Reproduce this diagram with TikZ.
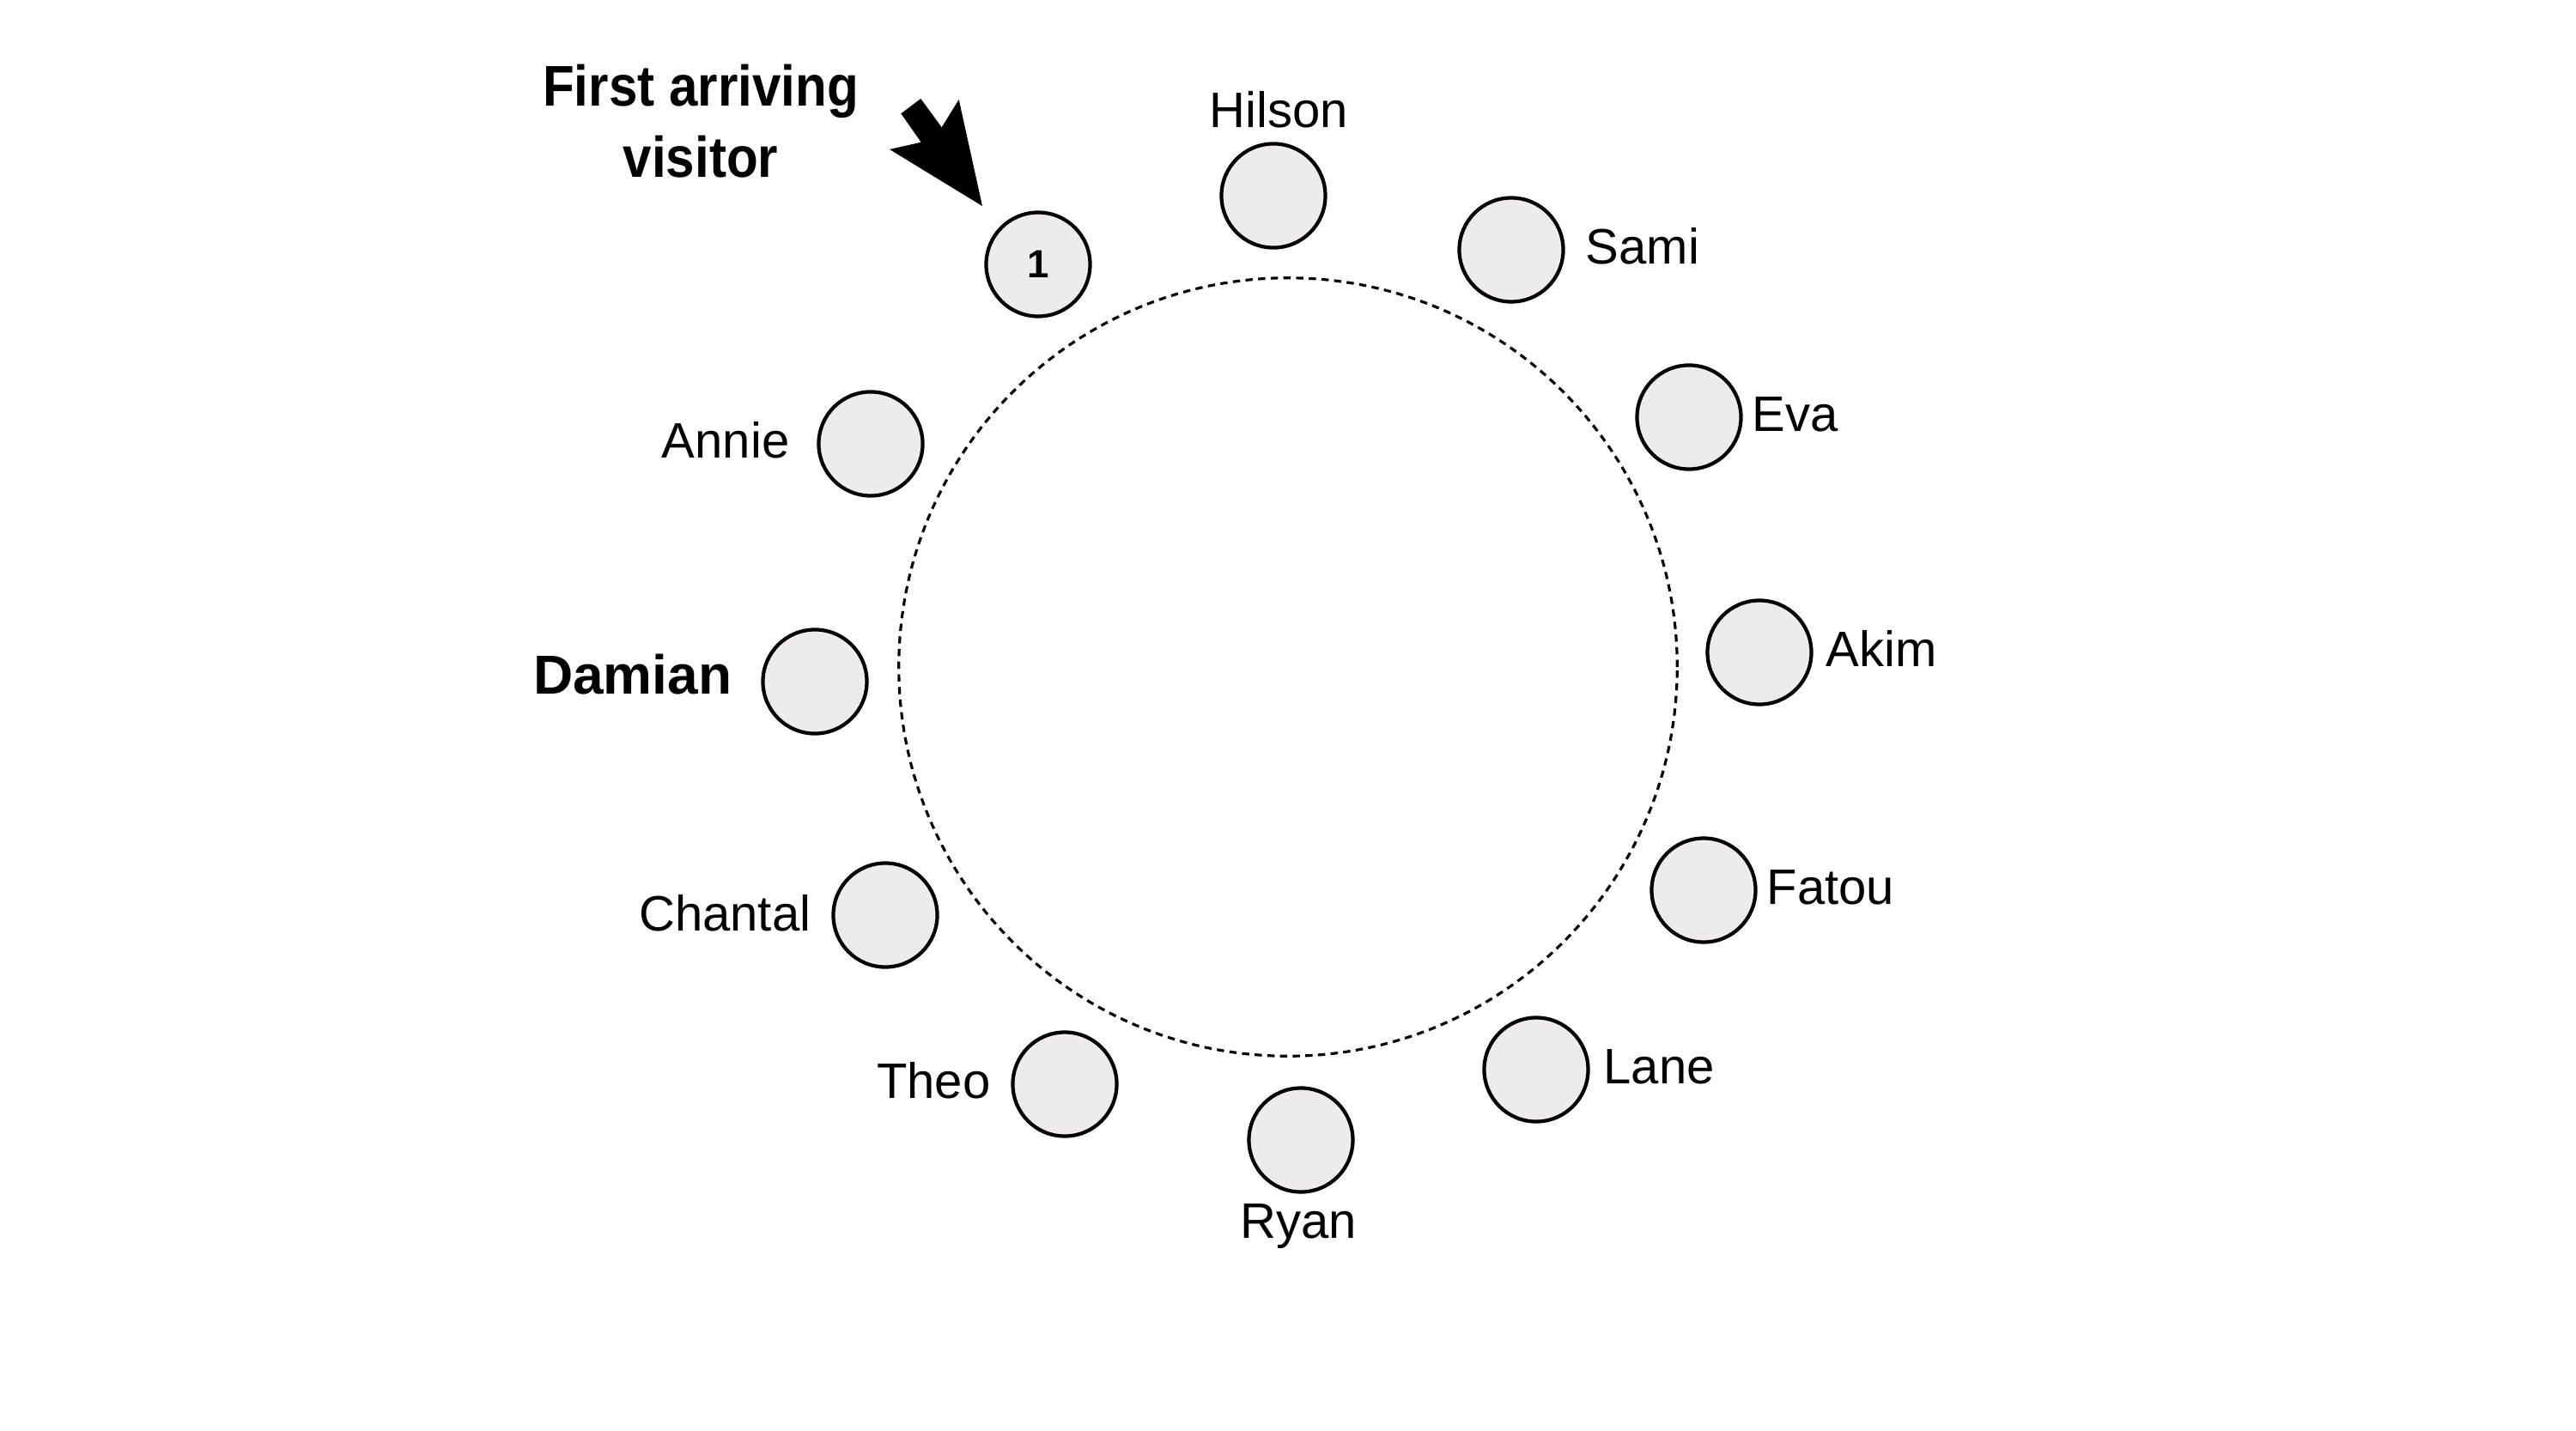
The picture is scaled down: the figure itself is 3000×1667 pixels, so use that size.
\documentclass[tikz,border=0pt]{standalone}
\usepackage{fontspec}
\setmainfont{Liberation Sans}
\newfontfamily\condfont[FakeStretch=0.9]{Liberation Sans}
\definecolor{seatfill}{RGB}{239,234,236}
\begin{document}
\begin{tikzpicture}[x=0.01cm,y=-0.01cm,
  seat/.style={circle,draw=black,line width=1.2pt,fill=seatfill,minimum size=1.21cm,inner sep=0pt},
  guestname/.style={inner sep=0pt,font=\fontsize{16.5}{19}\selectfont,text height=11.8pt,text depth=0pt},
  boldguestname/.style={inner sep=0pt,font=\bfseries\fontsize{18.2}{22}\selectfont,text height=13pt,text depth=0pt},
  tablering/.style={circle,draw=black,line width=0.9pt,dash pattern=on 2.4pt off 1.8pt,minimum size=9.06cm,inner sep=0pt}]
\useasboundingbox (0,0) rectangle (3000,1667);
% table
\node[tablering] (tbl) at (1500,777) {};
% seats
\node[seat,font=\bfseries\fontsize{13}{15}\selectfont] (s1) at (1209,308) {1};
\node[seat] (hilson) at (1483,228) {};
\node[seat] (sami) at (1760,291) {};
\node[seat] (eva) at (1967,486) {};
\node[seat] (akim) at (2049,760) {};
\node[seat] (fatou) at (1984,1037) {};
\node[seat] (lane) at (1789,1246) {};
\node[seat] (ryan) at (1515,1328) {};
\node[seat] (theo) at (1240,1263) {};
\node[seat] (chantal) at (1031,1066) {};
\node[seat] (damian) at (949,794) {};
\node[seat] (annie) at (1014,517) {};
% names
\node[guestname] (lhilson) at (1489,128) {Hilson};
\node[guestname,anchor=west] (lsami) at (1846,287) {Sami};
\node[guestname,anchor=west] (leva) at (2040,482) {Eva};
\node[guestname,anchor=west] (lakim) at (2126,756) {Akim};
\node[guestname,anchor=west] (lfatou) at (2057,1033) {Fatou};
\node[guestname,anchor=west] (llane) at (1867,1242) {Lane};
\node[guestname] (lryan) at (1512,1422) {Ryan};
\node[guestname,anchor=east] (ltheo) at (1154,1259) {Theo};
\node[guestname,anchor=east] (lchantal) at (945,1064) {Chantal};
\node[boldguestname,anchor=east] (ldamian) at (853,786) {Damian};
\node[guestname,anchor=east] (lannie) at (920,513) {Annie};
% title
\node[align=center,inner sep=0pt,font=\condfont\bfseries\fontsize{19}{23.6}\selectfont] (title) at (816,141) {First arriving\\visitor};
% block arrow
\fill[black] (1049.3,132.3) -- (1072.3,115) -- (1096.7,148.3) -- (1116.7,116)
  -- (1144,240) -- (1036,174) -- (1072.7,165.7) -- cycle;
\end{tikzpicture}
\end{document}
